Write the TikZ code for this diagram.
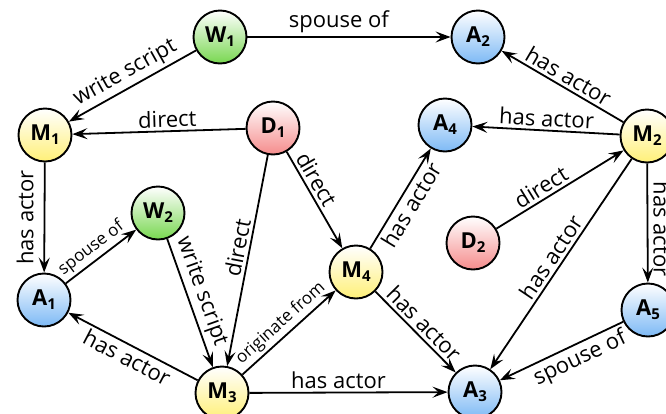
\documentclass[tikz,border=0pt]{standalone}
\usepackage{fontspec}
\setmainfont{Open Sans}
\usetikzlibrary{arrows.meta}
\definecolor{cA}{RGB}{125,185,245}
\definecolor{cW}{RGB}{120,215,80}
\definecolor{cM}{RGB}{255,240,120}
\definecolor{cD}{RGB}{245,140,140}
\newcommand\nlab[2]{#1\raisebox{-4pt}{\fontsize{15}{15}\selectfont #2}}
\tikzset{
  ent/.style={circle, draw=black, line width=1.9pt, minimum size=53pt, inner sep=0pt,
    shading angle=45, font=\fontsize{22}{22}\selectfont\bfseries},
  nA/.style={ent, top color=white, bottom color=cA},
  nW/.style={ent, top color=white, bottom color=cW},
  nM/.style={ent, top color=white, bottom color=cM},
  nD/.style={ent, top color=white, bottom color=cD},
  rel/.style={-{Stealth[length=15pt,width=11pt,inset=6pt]}, line width=1.8pt},
  lab/.style={font=\fontsize{22}{22}\selectfont, inner sep=3pt, sloped},
  slab/.style={font=\fontsize{17}{17}\selectfont, inner sep=3pt, sloped},
}
\begin{document}
\begin{tikzpicture}[x=1pt,y=-1pt]
\useasboundingbox (0,0) rectangle (666,413);
\node[nW] (W1) at (220,37) {\nlab{W}{1}};
\node[nA] (A2) at (478,37) {\nlab{A}{2}};
\node[nM] (M1) at (45,135) {\nlab{M}{1}};
\node[nD] (D1) at (273,128) {\nlab{D}{1}};
\node[nA] (A4) at (445,125) {\nlab{A}{4}};
\node[nM] (M2) at (647,136) {\nlab{M}{2}};
\node[nW] (W2) at (158,213) {\nlab{W}{2}};
\node[nD] (D2) at (473,243) {\nlab{D}{2}};
\node[nM] (M4) at (356,272) {\nlab{M}{4}};
\node[nA] (A1) at (44,300) {\nlab{A}{1}};
\node[nA] (A5) at (648,310) {\nlab{A}{5}};
\node[nM] (M3) at (222,393) {\nlab{M}{3}};
\node[nA] (A3) at (475,392) {\nlab{A}{3}};

\draw[rel] (W1) -- node[lab,above]{write script} (M1);
\draw[rel] (W1) -- node[lab,above,pos=0.45]{spouse of} (A2);
\draw[rel] (M2) -- node[lab,above]{has actor} (A2);
\draw[rel] (D1) -- node[lab,above,pos=0.45]{direct} (M1);
\draw[rel] (M2) -- node[lab,above]{has actor} (A4);
\draw[rel] (D1) -- node[lab,above,pos=0.35]{direct} (M4);
\draw[rel] (D1) -- node[lab,above,pos=0.45]{direct} (M3);
\draw[rel] (M4) -- node[lab,below]{has actor} (A4);
\draw[rel] (D2) -- node[lab,above,pos=0.4]{direct} (M2);
\draw[rel] (M2) -- node[font=\fontsize{22}{22}\selectfont, rotate=-90, anchor=south, inner sep=5pt, pos=0.55]{has actor} (A5);
\draw[rel] (M2) -- node[lab,above]{has actor} (A3);
\draw[rel] (M4) -- node[lab,above]{has actor} (A3);
\draw[rel] (A5) -- node[lab,below,pos=0.4]{spouse of} (A3);
\draw[rel] (M3) -- node[lab,above,pos=0.45]{has actor} (A3);
\draw[rel] (M3) -- node[lab,below]{has actor} (A1);
\draw[rel] (M3) -- node[slab,above,pos=0.5]{originate from} (M4);
\draw[rel] (W2) -- node[lab,above,pos=0.45]{write script} (M3);
\draw[rel] (A1) -- node[slab,above,pos=0.47]{spouse of} (W2);
\draw[rel] (M1) -- node[font=\fontsize{22}{22}\selectfont, rotate=90, anchor=south, inner sep=10pt]{has actor} (A1);
\end{tikzpicture}
\end{document}
